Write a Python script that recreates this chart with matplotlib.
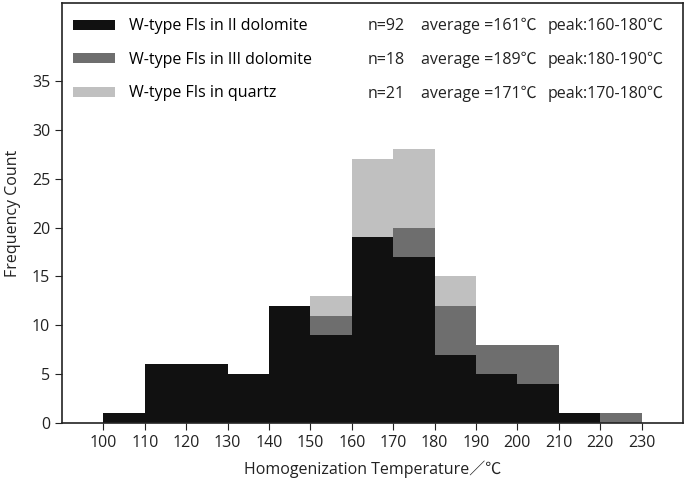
import matplotlib
matplotlib.use("Agg")
import matplotlib.pyplot as plt
import numpy as np

plt.rcParams['font.family'] = ['Open Sans', 'Noto Sans CJK SC', 'DejaVu Sans']

bin_left = [100, 110, 120, 130, 140, 150, 160, 170, 180, 190, 200, 210, 220]
dolomite2 = [1, 6, 6, 5, 12, 9, 19, 17, 7, 5, 4, 1, 0]
dolomite3 = [0, 0, 0, 0, 0, 2, 0, 3, 5, 3, 4, 0, 1]
quartz = [0, 0, 0, 0, 0, 2, 8, 8, 3, 0, 0, 0, 0]

labels = ['W-type FIs in II dolomite', 'W-type FIs in III dolomite', 'W-type FIs in quartz']
stats_n = ['n=92', 'n=18', 'n=21']
stats_avg = ['average =161℃', 'average =189℃', 'average =171℃']
stats_peak = ['peak:160-180℃', 'peak:180-190℃', 'peak:170-180℃']
colors = ['#111111', '#6e6e6e', '#c0c0c0']

fig = plt.figure(figsize=(6.85, 4.84), dpi=100)
ax = fig.add_axes([0.0905, 0.126, 0.9065, 0.868])

d2 = np.array(dolomite2)
d3 = np.array(dolomite3)
qz = np.array(quartz)
ax.bar(bin_left, d2, width=10, align='edge', color=colors[0], label=labels[0])
ax.bar(bin_left, d3, width=10, align='edge', bottom=d2, color=colors[1], label=labels[1])
ax.bar(bin_left, qz, width=10, align='edge', bottom=d2 + d3, color=colors[2], label=labels[2])

ax.set_xlim(90, 240)
ax.set_ylim(0, 43)
ax.set_xticks(range(100, 231, 10))
ax.set_yticks(range(0, 36, 5))
ax.tick_params(direction='out', labelsize=11.5, colors='#222222', length=5)
for s in ax.spines.values():
    s.set_color('#222222')
    s.set_linewidth(1.2)

ax.set_xlabel('Homogenization Temperature／℃', fontsize=11.5, color='#222222', labelpad=7)
ax.set_ylabel('Frequency Count', fontsize=11.5, color='#222222', labelpad=8)

ax.legend(loc='upper left', frameon=False, fontsize=11.5, handlelength=2.6, handleheight=0.6,
          labelspacing=1.1, borderaxespad=0.3, handletextpad=0.9, bbox_to_anchor=(0.0, 0.99))

for i in range(3):
    y = 0.945 - i * 0.081
    ax.text(0.493, y, stats_n[i], transform=ax.transAxes, fontsize=11.5, va='center', color='#222222')
    ax.text(0.578, y, stats_avg[i], transform=ax.transAxes, fontsize=11.5, va='center', color='#222222')
    ax.text(0.782, y, stats_peak[i], transform=ax.transAxes, fontsize=11.5, va='center', color='#222222')

fig.savefig('out.png', dpi=100)
